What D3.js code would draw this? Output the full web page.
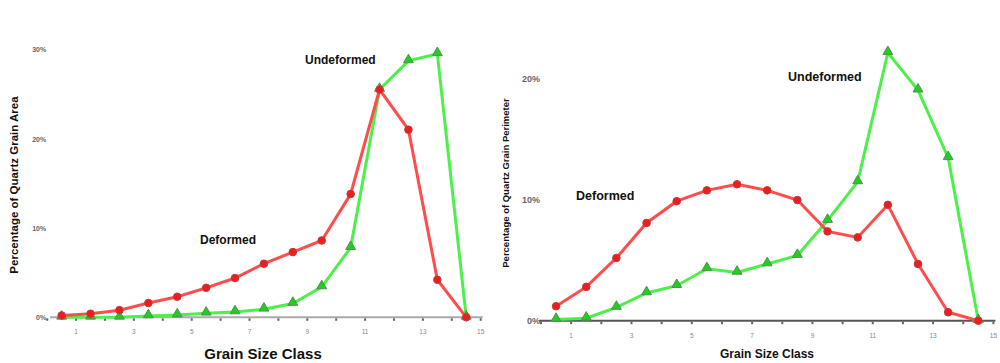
<!DOCTYPE html>
<html>
<head>
<meta charset="utf-8">
<script src="https://cdn.jsdelivr.net/npm/d3@7"></script>
<style>
  body { margin: 0; background: #fff; }
  svg { display: block; font-family: "Liberation Sans", Arial, sans-serif; }
</style>
</head>
<body>
<svg id="chart" width="1000" height="363"></svg>
<script>
// grain size classes (x axis)
var classes = ["1","2","3","4","5","6","7","8","9","10","11","12","13","14","15"];
// boundary tick labels, every other class edge
var edgeLabels = ["1","3","5","7","9","11","13","15"];

// left panel: percentage of quartz grain area
var areaDeformed   = [0.2, 0.4, 0.8, 1.6, 2.3, 3.3, 4.4, 6.0, 7.3, 8.6, 13.8, 25.5, 21.0, 4.2, 0];
var areaUndeformed = [0, 0, 0, 0.15, 0.25, 0.45, 0.6, 0.9, 1.55, 3.4, 7.8, 25.5, 28.7, 29.5, 0];
var areaTicks = [0, 10, 20, 30];

// right panel: percentage of quartz grain perimeter
var perimDeformed   = [1.2, 2.8, 5.2, 8.1, 9.9, 10.8, 11.3, 10.8, 10.0, 7.4, 6.9, 9.6, 4.7, 0.7, 0];
var perimUndeformed = [0.1, 0.2, 1.1, 2.3, 2.9, 4.3, 4.0, 4.7, 5.4, 8.3, 11.5, 22.2, 19.1, 13.5, 0];
var perimTicks = [0, 10, 20];

var svg = d3.select("#chart");

function drawPanel(p) {
    var x = d3.scaleBand().domain(classes).range([p.x0, p.x1]).padding(0);
    var xEdge = d3.scaleLinear().domain([0, classes.length]).range([p.x0, p.x1]);
    var y = d3.scaleLinear().domain([0, p.yTop]).range([p.yBase, p.yTopPx]);
    var cx = function (d, i) { return x(classes[i]) + x.bandwidth() / 2; };

    var g = svg.append("g");

    // x axis line
    g.append("line")
        .attr("x1", p.axisStart).attr("x2", p.x1 + 2)
        .attr("y1", y(0)).attr("y2", y(0))
        .attr("stroke", p.axisColor).attr("stroke-width", 2);

    // ticks at class boundaries
    g.selectAll(".edge").data(d3.range(0, classes.length + 1)).enter()
        .append("rect")
        .attr("x", function (d) { return xEdge(d) - 1; })
        .attr("y", y(0) + 1)
        .attr("width", 2).attr("height", 2.5)
        .attr("fill", "#666");

    g.selectAll(".edgelab").data(edgeLabels).enter()
        .append("text")
        .attr("x", function (d) { return xEdge(+d); })
        .attr("y", y(0) + 17)
        .attr("text-anchor", "middle")
        .attr("font-size", 6.5)
        .attr("fill", "#888")
        .text(function (d) { return d; });

    // y tick labels
    g.selectAll(".ylab").data(p.ticks).enter()
        .append("text")
        .attr("x", p.x0 - 1)
        .attr("y", function (d) { return y(d) + 3; })
        .attr("text-anchor", "end")
        .attr("font-size", p.yLabSize)
        .attr("font-weight", "bold")
        .attr("fill", "#666")
        .text(function (d) { return d + "%"; });

    var line = d3.line().x(cx).y(function (d) { return y(d); });

    g.append("path").datum(p.undeformed)
        .attr("d", line).attr("fill", "none")
        .attr("stroke", "#4def4a").attr("stroke-width", 3);
    g.append("path").datum(p.deformed)
        .attr("d", line).attr("fill", "none")
        .attr("stroke", "#ff4c4c").attr("stroke-width", 3);

    g.selectAll(".tri").data(p.undeformed).enter()
        .append("path")
        .attr("d", d3.symbol(d3.symbolTriangle).size(42))
        .attr("transform", function (d, i) { return "translate(" + cx(d, i) + "," + (y(d) - 1) + ")"; })
        .attr("fill", "#1ed01e").attr("stroke", "#5a8a5a").attr("stroke-width", 1);

    g.selectAll(".dot").data(p.deformed).enter()
        .append("circle")
        .attr("cx", cx).attr("cy", function (d) { return y(d); })
        .attr("r", 3.8)
        .attr("fill", "#ee1c1c").attr("stroke", "#b84040").attr("stroke-width", 1);

    // series labels
    g.append("text").attr("x", p.undefLab[0]).attr("y", p.undefLab[1])
        .attr("font-size", p.labSize).attr("font-weight", "bold").attr("fill", "#111")
        .text("Undeformed");
    g.append("text").attr("x", p.defLab[0]).attr("y", p.defLab[1])
        .attr("font-size", p.labSize).attr("font-weight", "bold").attr("fill", "#111")
        .text("Deformed");

    // axis titles
    g.append("text")
        .attr("x", p.xTitle[0]).attr("y", p.xTitle[1])
        .attr("text-anchor", "middle")
        .attr("font-size", p.xTitleSize).attr("font-weight", "bold").attr("fill", "#111")
        .text("Grain Size Class");
    g.append("text")
        .attr("transform", "translate(" + p.yTitle[0] + "," + p.yTitle[1] + ") rotate(-90)")
        .attr("text-anchor", "middle")
        .attr("font-size", p.yTitleSize).attr("font-weight", "bold").attr("fill", "#111")
        .text(p.yTitleText);
}

drawPanel({
    x0: 47.2, x1: 480.7, axisStart: 50,
    yBase: 317.3, yTopPx: 49.3, yTop: 30,
    ticks: areaTicks, yLabSize: 7,
    axisColor: "#aaa",
    deformed: areaDeformed, undeformed: areaUndeformed,
    undefLab: [305, 64], defLab: [200, 244], labSize: 12,
    xTitle: [263, 359], xTitleSize: 15,
    yTitle: [18, 185], yTitleSize: 11.5,
    yTitleText: "Percentage of Quartz Grain Area"
});

drawPanel({
    x0: 541, x1: 993.4, axisStart: 539,
    yBase: 320.7, yTopPx: 79.3, yTop: 20,
    ticks: perimTicks, yLabSize: 9,
    axisColor: "#555",
    deformed: perimDeformed, undeformed: perimUndeformed,
    undefLab: [788, 81], defLab: [576, 200], labSize: 12.5,
    xTitle: [767, 358], xTitleSize: 12,
    yTitle: [509, 183], yTitleSize: 9.5,
    yTitleText: "Percentage of Quartz Grain Perimeter"
});
</script>
</body>
</html>
